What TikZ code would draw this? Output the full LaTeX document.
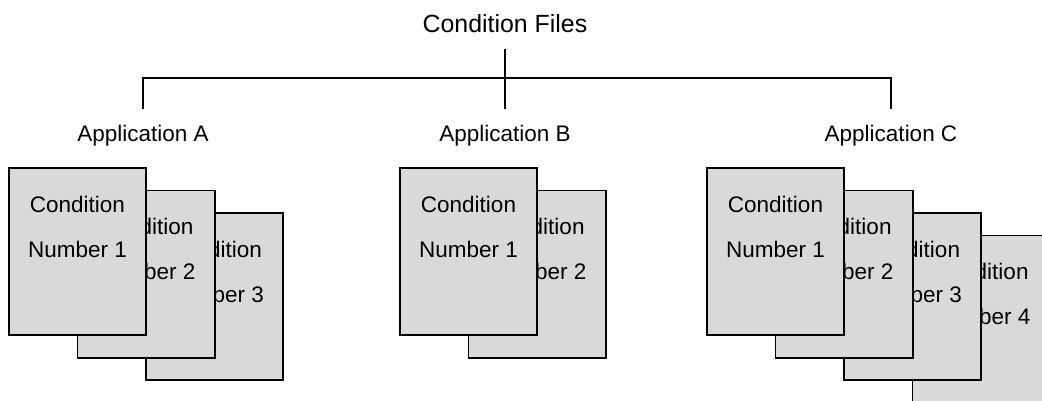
\documentclass[tikz,border=0pt]{standalone}
\usepackage{fontspec}
\setmainfont{Liberation Sans}
\usepackage{xcolor}
\usetikzlibrary{math}
\definecolor{sheetgray}{RGB}{217,217,217}

\begin{document}
\begin{tikzpicture}[x=0.025cm,y=-0.025cm,
  treeline/.style={line width=1.9pt},
  sheet/.style={draw,line width=1.4pt,fill=sheetgray,inner sep=0pt,
    minimum width=3.425cm,minimum height=4.175cm,anchor=north west},
  words/.style={font=\fontsize{16}{19}\selectfont,inner sep=0pt,anchor=base}]
\tikzmath{
\dx=68.5;
\dy=22.5;
}
\clip (0,0) rectangle (1042,401);

% headings
\node[words,font=\fontsize{17.7}{21}\selectfont] (title) at (505,32) {Condition Files};
\node[words] (appA) at (143,141) {Application A};
\node[words] (appB) at (505,141) {Application B};
\node[words] (appC) at (891,141) {Application C};

% tree
\coordinate (hub) at (505,78);
\draw[treeline] ([yshift=-12pt]title.south) -- ([yshift=11pt]appB.north);
\draw[treeline] ([yshift=11pt]appA.north) |- (hub) -| ([yshift=11pt]appC.north);

% stacked condition sheets, back one first
\foreach \app/\xo/\n in {A/8/3,B/399/2,C/706/4}{
  \foreach \k in {\n,...,1}{
    \node[sheet] (\app\k) at ({\xo+(\k-1)*\dx},{167+(\k-1)*\dy}) {};
    \node[words] (\app\k-t) at ([yshift=-1.125cm]\app\k.north) {Condition};
    \node[words] (\app\k-b) at ([yshift=-2.25cm]\app\k.north) {Number \k};
  }
}
\end{tikzpicture}
\end{document}
